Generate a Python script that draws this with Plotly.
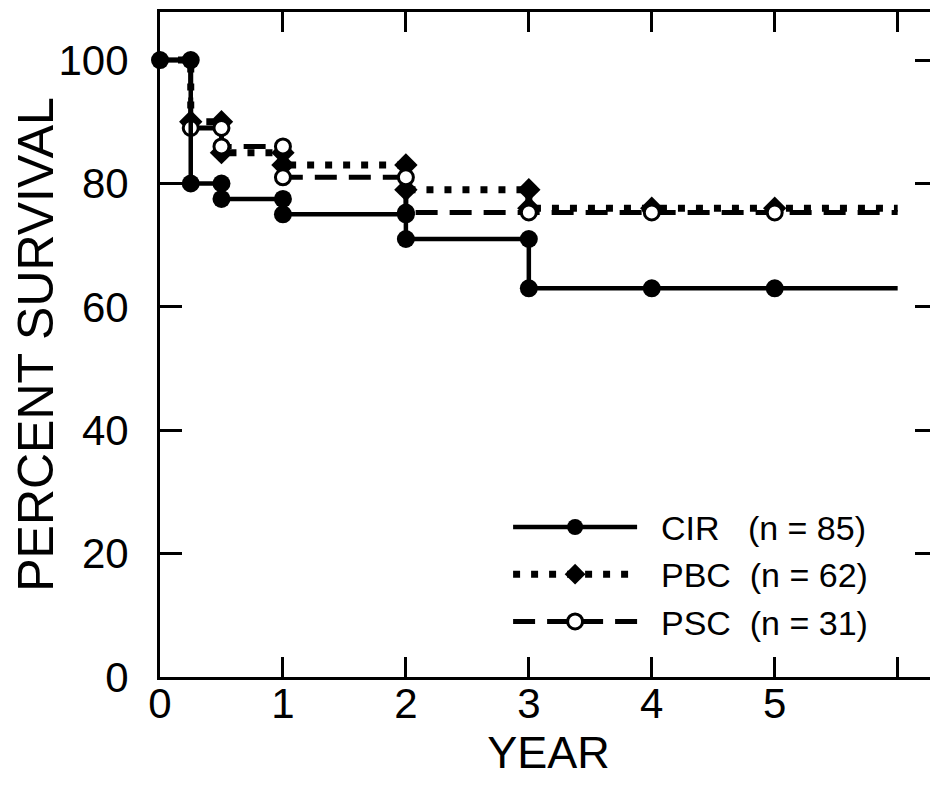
import plotly.graph_objects as go

# ---- data ----
years = [0, 0.25, 0.5, 1, 2, 3, 4, 5]
cir = [100, 80, 77.5, 75, 71, 63, 63, 63]
pbc = [100, 90, 85, 83, 79, 76, 76, 76]
psc = [100, 89, 86, 81, 75.3, 75.3, 75.3, 75.3]
x_end = 6
series_names = ["\u00a0\u00a0CIR\u00a0\u00a0\u00a0(n = 85)",
                "\u00a0\u00a0PBC\u00a0\u00a0(n = 62)",
                "\u00a0\u00a0PSC\u00a0\u00a0(n = 31)"]
x_tickvals = [0, 1, 2, 3, 4, 5, 6]
x_ticktext = ["0", "1", "2", "3", "4", "5", ""]
y_tickvals = [0, 20, 40, 60, 80, 100]


def corners(t, s, skip_start):
    xs, ys = [], []
    if not skip_start:
        xs.append(t[0]); ys.append(s[0])
    for i in range(1, len(t)):
        if s[i] != s[i - 1]:
            if not (skip_start and i == 1):
                xs.append(t[i]); ys.append(s[i - 1])
        xs.append(t[i]); ys.append(s[i])
    return xs, ys


styles = [
    dict(vals=cir, skip=False, line=dict(color="black", width=4.5, dash="solid"),
         marker=dict(symbol="circle", size=18, color="black", line=dict(width=0))),
    dict(vals=pbc, skip=True, line=dict(color="black", width=7, dash="7px,11px"),
         marker=dict(symbol="diamond", size=18, color="black", line=dict(width=0))),
    dict(vals=psc, skip=True, line=dict(color="black", width=5, dash="22px,12px"),
         marker=dict(symbol="circle", size=15, color="white", line=dict(width=3, color="black"))),
]

fig = go.Figure()
# draw order: PBC, PSC, CIR (CIR on top)
for idx in [1, 2, 0]:
    st = styles[idx]
    v = st["vals"]
    fig.add_trace(go.Scatter(x=years + [x_end], y=v + [v[-1]], mode="lines",
                             line=st["line"], line_shape="hv", showlegend=False,
                             cliponaxis=False, hoverinfo="skip"))
    mx, my = corners(years, v, st["skip"])
    fig.add_trace(go.Scatter(x=mx, y=my, mode="markers", marker=st["marker"],
                             showlegend=False, cliponaxis=False))

for idx in range(3):
    st = styles[idx]
    fig.add_trace(go.Scatter(x=[None], y=[None], mode="lines+markers",
                             line=st["line"], marker=st["marker"],
                             name=series_names[idx], showlegend=True))

# the page body adds an 8px offset, so the figure is sized to fit the window
fig.update_layout(
    width=930, height=777,
    margin=dict(l=152, r=1, t=4, b=108, autoexpand=False),
    plot_bgcolor="white", paper_bgcolor="white",
    font=dict(family="Liberation Sans, Arial, sans-serif", color="black"),
    legend=dict(x=0.448, y=0.04, xanchor="left", yanchor="bottom",
                bgcolor="rgba(0,0,0,0)", font=dict(size=34),
                itemwidth=124, tracegroupgap=0),
    xaxis=dict(range=[0, 6.32], tickvals=x_tickvals, ticktext=x_ticktext,
               ticks="inside", ticklen=20, tickwidth=2.5, tickcolor="black",
               showline=True, linewidth=3, linecolor="black", mirror="ticks",
               showgrid=False, zeroline=False, tickfont=dict(size=42),
               ticklabelstandoff=-12, automargin=False,
               title=dict(text="YEAR", font=dict(size=45), standoff=6)),
    yaxis=dict(range=[0, 107.8], tickvals=y_tickvals,
               ticks="inside", ticklen=22, tickwidth=2.5, tickcolor="black",
               showline=True, linewidth=3, linecolor="black", mirror="ticks",
               showgrid=False, zeroline=False, tickfont=dict(size=42),
               ticklabelstandoff=20, automargin=False,
               title=dict(text="PERCENT SURVIVAL", font=dict(size=50), standoff=8)),
)

fig.write_html("out.html")
